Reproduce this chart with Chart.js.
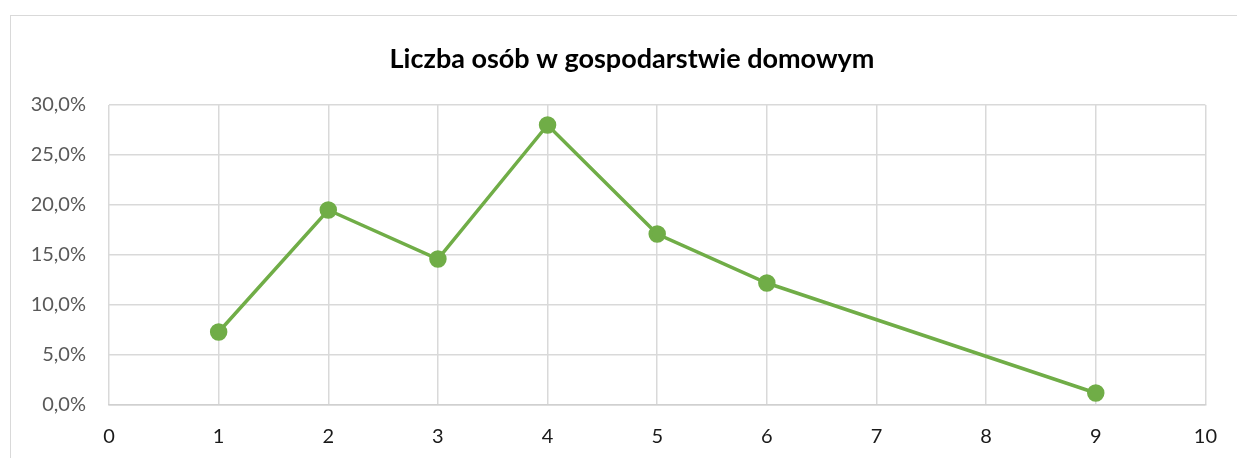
<!DOCTYPE html>
<html>
<head>
<meta charset="utf-8">
<script src="https://cdn.jsdelivr.net/npm/chart.js@4.4.0/dist/chart.umd.min.js"></script>
<style>
    html, body { margin: 0; padding: 0; background: #fff; }
    #wrap { position: relative; width: 1237px; height: 458px; overflow: hidden; }
    #frame {
        position: absolute; left: 10px; top: 15px; width: 1300px; height: 500px;
        border: 1.5px solid #d9d9d9; box-sizing: border-box;
    }
    canvas { position: absolute; left: 0; top: 0; }
</style>
</head>
<body>
<div id="wrap">
    <div id="frame"></div>
    <canvas id="chart" width="1237" height="458"></canvas>
</div>
<script>
// Liczba osób w gospodarstwie domowym (share of households, %)
const householdSize = [1, 2, 3, 4, 5, 6, 9];
const sharePercent = [7.3, 19.5, 14.6, 28.0, 17.1, 12.2, 1.2];
const xTicks = [0, 1, 2, 3, 4, 5, 6, 7, 8, 9, 10];
const yTicks = [0, 5, 10, 15, 20, 25, 30];
const chartTitle = 'Liczba osób w gospodarstwie domowym';

const FONT = 'Lato, "Liberation Sans", sans-serif';

const points = householdSize.map((x, i) => ({ x: x, y: sharePercent[i] }));

// Title is centred on the outer frame, not on the plot, so draw it by hand
const titlePlugin = {
    id: 'frameTitle',
    afterDraw(chart) {
        const ctx = chart.ctx;
        ctx.save();
        ctx.font = 'bold 27px ' + FONT;
        ctx.fillStyle = '#000';
        ctx.textAlign = 'center';
        ctx.textBaseline = 'alphabetic';
        ctx.fillText(chartTitle, 632, 68);
        ctx.restore();
    }
};

new Chart(document.getElementById('chart'), {
    type: 'scatter',
    data: {
        datasets: [{
            data: points,
            showLine: true,
            borderColor: '#70ad47',
            backgroundColor: '#70ad47',
            borderWidth: 3.5,
            pointRadius: 7,
            pointHoverRadius: 7
        }]
    },
    plugins: [titlePlugin],
    options: {
        responsive: false,
        animation: false,
        layout: { padding: { left: 0, right: 29, top: 105, bottom: 0 } },
        plugins: {
            legend: { display: false },
            tooltip: { enabled: false },
            title: { display: false }
        },
        scales: {
            x: {
                type: 'linear',
                min: xTicks[0],
                max: xTicks[xTicks.length - 1],
                afterBuildTicks: axis => { axis.ticks = xTicks.map(v => ({ value: v })); },
                afterFit: axis => { axis.height = 53; },
                grid: { color: '#d9d9d9', lineWidth: 1.5, drawTicks: false },
                border: { color: '#d0d0d0', width: 1.5 },
                ticks: {
                    color: '#1a1a1a',
                    padding: 20,
                    maxRotation: 0,
                    font: { family: FONT, size: 20 }
                }
            },
            y: {
                min: yTicks[0],
                max: yTicks[yTicks.length - 1],
                afterBuildTicks: axis => { axis.ticks = yTicks.map(v => ({ value: v })); },
                afterFit: axis => { axis.width = 109; },
                grid: { color: '#d9d9d9', lineWidth: 1.5, drawTicks: false },
                border: { display: false },
                ticks: {
                    color: '#595959',
                    padding: 23,
                    font: { family: FONT, size: 20 },
                    callback: v => v.toFixed(1).replace('.', ',') + '%'
                }
            }
        }
    }
});
</script>
</body>
</html>
